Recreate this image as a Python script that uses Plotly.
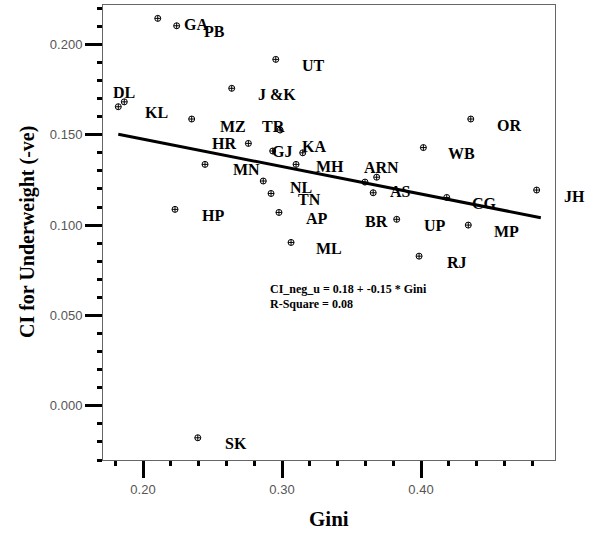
import numpy as np
import plotly.graph_objects as go

# ---- data ----
states = ["GA", "PB", "UT", "J &K", "DL", "KL", "MZ", "TR", "HR", "GJ", "KA", "MN",
          "OR", "WB", "MH", "ARN", "AS", "NL", "TN", "HP", "AP", "ML", "BR", "UP",
          "CG", "MP", "RJ", "SK", "JH"]
gini = [0.2106, 0.2242, 0.2955, 0.2638, 0.1865, 0.1822, 0.2350, 0.2986, 0.2758, 0.2933,
        0.3149, 0.2446, 0.4358, 0.4017, 0.3101, 0.3681, 0.3597, 0.2865, 0.2921, 0.2230,
        0.2978, 0.3065, 0.3656, 0.3825, 0.4185, 0.4340, 0.3986, 0.2394, 0.4832]
ci_under = [0.2144, 0.2103, 0.1917, 0.1757, 0.1682, 0.1655, 0.1587, 0.1526, 0.1452, 0.1410,
            0.1400, 0.1336, 0.1587, 0.1429, 0.1336, 0.1265, 0.1238, 0.1244, 0.1175, 0.1087,
            0.1070, 0.0904, 0.1179, 0.1032, 0.1153, 0.1000, 0.0828, -0.0177, 0.1194]
# fitted line as drawn in the picture (equation text shows the rounded values)
fit_intercept = 0.178
fit_slope = -0.152
equation_text = "CI_neg_u = 0.18 + -0.15 * Gini"
rsq_text = "R-Square = 0.08"

# ---- label placement (pixel offsets of label centre from the marker) ----
default_offset = (38, 6)
label_offsets = {
    "J &K": (45, 6), "DL": (0, -9), "TR": (-7, -4), "HR": (-24, 0), "GJ": (9, 0),
    "KA": (11, -6), "MH": (34, 2), "ARN": (5, -10), "AS": (35, 9), "BR": (3, 29),
    "MZ": (41, 7), "MN": (41, 5),
}

serif = "Liberation Serif"
fig = go.Figure()

fig.add_trace(go.Scatter(
    x=gini, y=ci_under, mode="markers",
    marker=dict(symbol="circle-cross-open", size=6, color="black", line=dict(width=1, color="black")),
    showlegend=False, hoverinfo="skip"))

gx = np.array([min(gini), max(gini) + 0.003])
fig.add_trace(go.Scatter(x=gx, y=fit_intercept + fit_slope * gx, mode="lines",
                         line=dict(color="black", width=3), showlegend=False, hoverinfo="skip"))

for s, gv, cv in zip(states, gini, ci_under):
    dx, dy = label_offsets.get(s, default_offset)
    fig.add_annotation(x=gv, y=cv, text=s, showarrow=False, xanchor="center", yanchor="middle",
                       xshift=dx, yshift=-dy,
                       font=dict(family=serif, size=16, color="black", weight="bold"))

fig.add_annotation(x=0.2899, y=0.0644, text=equation_text, showarrow=False, xanchor="left",
                   yanchor="middle", font=dict(family=serif, size=12, color="black", weight="bold"))
fig.add_annotation(x=0.2899, y=0.0563, text=rsq_text, showarrow=False, xanchor="left",
                   yanchor="middle", font=dict(family=serif, size=12, color="black", weight="bold"))

# axis titles
fig.add_annotation(xref="paper", yref="paper", x=0.5, y=-0.13, text="Gini", showarrow=False,
                   xanchor="center", yanchor="middle",
                   font=dict(family=serif, size=21, color="black", weight="bold"))
fig.add_annotation(xref="paper", yref="paper", x=-0.167, y=0.5, text="CI for Underweight (-ve)",
                   showarrow=False, textangle=-90, xanchor="center", yanchor="middle",
                   font=dict(family=serif, size=20, color="black", weight="bold"))

axis_common = dict(showgrid=False, zeroline=False, showline=True, linecolor="#666", linewidth=1,
                   mirror=True, ticks="outside", ticklen=17, tickwidth=3, tickcolor="black",
                   tickfont=dict(family="Liberation Sans", size=13, color="#555"))
fig.update_xaxes(range=[0.1712, 0.4964], tickmode="linear", tick0=0, dtick=0.1, tickformat=".2f",
                 minor=dict(tick0=0, dtick=0.02, ticks="outside", ticklen=5, tickwidth=3, tickcolor="black"),
                 **axis_common)
fig.update_yaxes(range=[-0.0300, 0.2218], tickmode="linear", tick0=0, dtick=0.05, tickformat=".3f",
                 minor=dict(tick0=0, dtick=0.01, ticks="outside", ticklen=5, tickwidth=3, tickcolor="black"),
                 **axis_common)

fig.update_layout(width=593, height=533, margin=dict(l=103, r=38, t=5, b=73),
                  plot_bgcolor="white", paper_bgcolor="white")

fig.write_html("out.html", config={"displayModeBar": False},
               post_script="document.body.style.margin='0px';")
